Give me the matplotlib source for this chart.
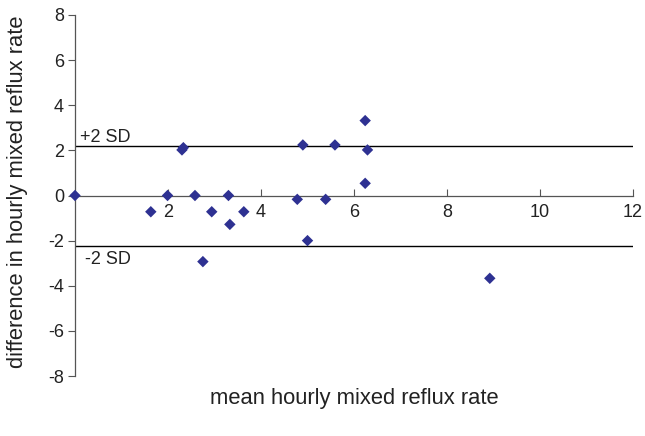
import matplotlib
matplotlib.use("Agg")
import matplotlib.pyplot as plt

plt.rcParams['font.family'] = ['Liberation Sans', 'DejaVu Sans']
plt.rcParams['axes.unicode_minus'] = False

# Bland-Altman data: mean vs difference of hourly mixed reflux rate
mean_rate = [0.0, 1.63, 1.99, 2.30, 2.33, 2.58, 2.75, 2.94, 3.30, 3.33, 3.63,
             4.78, 4.90, 5.00, 5.39, 5.59, 6.24, 6.29, 6.24, 8.92]
diff_rate = [0.0, -0.72, 0.0, 2.02, 2.12, 0.0, -2.93, -0.72, 0.0, -1.28, -0.72,
             -0.17, 2.24, -2.0, -0.17, 2.24, 3.32, 2.02, 0.54, -3.67]
upper_sd = 2.19
lower_sd = -2.22

x_ticks = [2, 4, 6, 8, 10, 12]
y_ticks = [-8, -6, -4, -2, 0, 2, 4, 6, 8]

fig = plt.figure(figsize=(6.45, 4.36), dpi=100)
ax = fig.add_axes([0.1163, 0.1376, 0.8651, 0.828])

ax.axhline(upper_sd, color='black', lw=1.0, zorder=1)
ax.axhline(lower_sd, color='black', lw=1.0, zorder=1)
ax.scatter(mean_rate, diff_rate, marker='D', s=34, color='#2E3192',
           edgecolors='none', zorder=3, clip_on=False)

ax.set_xlim(0, 12)
ax.set_ylim(-8, 8)
ax.set_xticks(x_ticks)
ax.set_yticks(y_ticks)

for s in ['top', 'right']:
    ax.spines[s].set_visible(False)
ax.spines['bottom'].set_position(('data', 0))
for s in ['bottom', 'left']:
    ax.spines[s].set_color('#555555')
    ax.spines[s].set_linewidth(0.9)

ax.tick_params(axis='x', direction='in', length=5, color='#555555',
               labelsize=13, labelcolor='#222222', pad=6)
ax.tick_params(axis='y', direction='out', length=5, color='#555555',
               labelsize=13, labelcolor='#222222', pad=3)

ax.text(0.11, 2.37, '+2 SD', fontsize=13, ha='left', va='baseline', color='#222222')
ax.text(0.215, -3.04, '-2 SD', fontsize=13, ha='left', va='baseline', color='#222222')

fig.text(18 / 645, 1 - 192 / 436, 'difference in hourly mixed reflux rate',
         fontsize=15.8, rotation=90, ha='center', va='center', color='#222222')
fig.text(354 / 645, 1 - 398 / 436, 'mean hourly mixed reflux rate',
         fontsize=15.8, ha='center', va='center', color='#222222')

fig.savefig('out.png', dpi=100)
